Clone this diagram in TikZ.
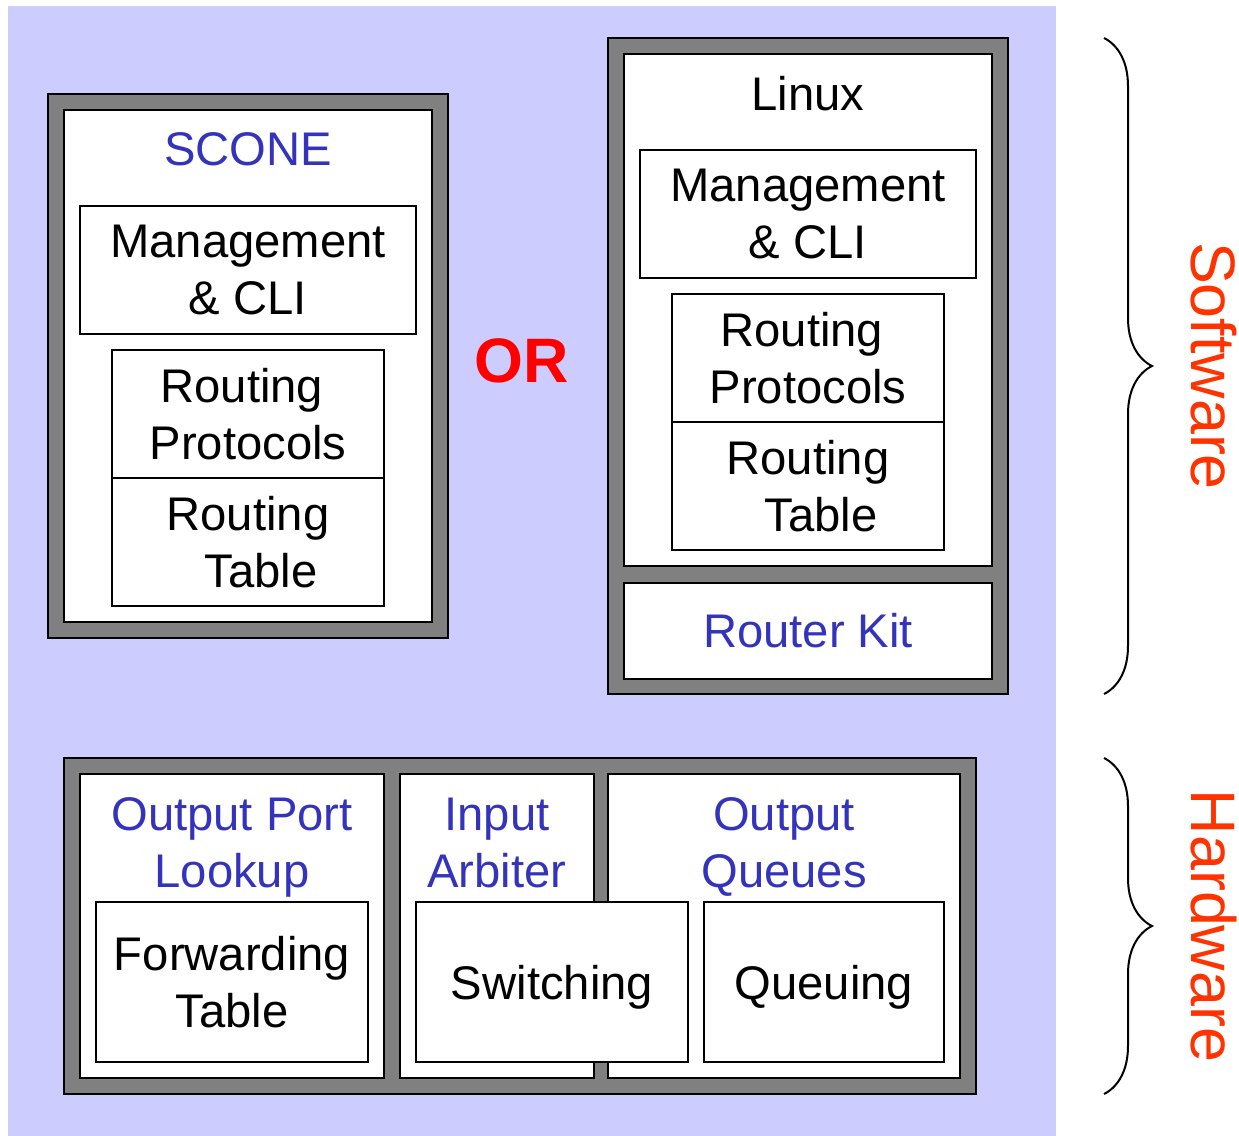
\documentclass[tikz,border=0pt]{standalone}
\usepackage{fontspec}
\setmainfont{Liberation Sans}
\usetikzlibrary{decorations.pathreplacing}
\definecolor{bgblue}{HTML}{CCCCFF}
\definecolor{framegray}{HTML}{808080}
\definecolor{headblue}{HTML}{3333BB}
\definecolor{swred}{HTML}{FF3300}
\newcommand{\lblfont}{\fontsize{23.6}{28.5}\selectfont}
\newcommand{\bigfont}{\fontsize{31.4}{37}\selectfont}
\newcommand{\pad}[1]{\hbox to #1{}}
\tikzset{frame/.style = {draw, fill=framegray, line width=1pt, inner sep=0},
  panel/.style = {draw, fill=white, line width=1pt, inner sep=0},
  cell/.style = {panel, font=\lblfont, align=center},
  head/.style = {font=\lblfont, text=headblue, align=center, inner sep=0},
  side/.style = {font=\bigfont, text=swred, rotate=-90, inner sep=0},
  brc/.style = {decorate, decoration={brace, amplitude=24pt}, line width=1pt}}

\begin{document}
\begin{tikzpicture}[x=0.5pt, y=-0.5pt]
  \useasboundingbox (0,0) rectangle (1239,1136);
  \fill[bgblue] (8,6) rectangle (1056,1136);

  \node [frame, minimum width=200pt, minimum height=272pt] (sconeframe) at (248,366) {};
  \node [panel, minimum width=184pt, minimum height=256pt] (sconepanel) at (248,366) {};
  \node [head] (scone) at (248,149) {SCONE};
  \node [cell, minimum width=168pt, minimum height=64pt] (sconemgmt) at (248,270) {Management\\\& CLI};
  \node [cell, minimum width=136pt, minimum height=64pt] (sconeproto) at (248,414) {Routing\pad{0.26em}\\Protocols};
  \node [cell, minimum width=136pt, minimum height=64pt] (sconetable) at (248,542) {Routing\\\pad{0.56em}Table};

  \node [font=\bigfont\bfseries, text=red, inner sep=0] (or) at (522,361) {OR};

  \node [frame, minimum width=200pt, minimum height=328pt] (linuxframe) at (808,366) {};
  \node [panel, minimum width=184pt, minimum height=256pt] (linuxpanel) at (808,310) {};
  \node [panel, minimum width=184pt, minimum height=48pt, font=\lblfont, text=headblue] (kit) at (808,631) {Router Kit};
  \node [font=\lblfont, inner sep=0] (linux) at (808,94) {Linux};
  \node [cell, minimum width=168pt, minimum height=64pt] (linuxmgmt) at (808,214) {Management\\\& CLI};
  \node [cell, minimum width=136pt, minimum height=64pt] (linuxproto) at (808,358) {Routing\pad{0.26em}\\Protocols};
  \node [cell, minimum width=136pt, minimum height=64pt] (linuxtable) at (808,486) {Routing\\\pad{0.56em}Table};

  \node [frame, minimum width=456pt, minimum height=168pt] (hwframe) at (520,926) {};
  \node [panel, minimum width=152pt, minimum height=152pt] (oplpanel) at (232,926) {};
  \node [panel, minimum width=97pt, minimum height=152pt] (iapanel) at (497,926) {};
  \node [panel, minimum width=176pt, minimum height=152pt] (oqpanel) at (784,926) {};
  \node [head] (opl) at (232,847) {Output Port\\Lookup};
  \node [head] (ia) at (497,843) {Input\\Arbiter};
  \node [head] (oq) at (784,847) {Output\\Queues};
  \node [cell, minimum width=136pt, minimum height=80pt] (fwd) at (232,982) {Forwarding\\Table};
  \node [cell, minimum width=136pt, minimum height=80pt, text depth=0pt] (switch) at (552,982) {Switching};
  \node [cell, minimum width=120pt, minimum height=80pt, text depth=0pt] (queue) at (824,982) {Queuing};

  \coordinate (swtop) at (1104,38);
  \coordinate (swbot) at (1104,694);
  \coordinate (hwtop) at (1104,758);
  \coordinate (hwbot) at (1104,1094);
  \draw [brc] (swtop) -- (swbot);
  \draw [brc] (hwtop) -- (hwbot);
  \node [side] (software) at (1214,366) {Software};
  \node [side] (hardware) at (1214,926) {Hardware};
\end{tikzpicture}
\end{document}
